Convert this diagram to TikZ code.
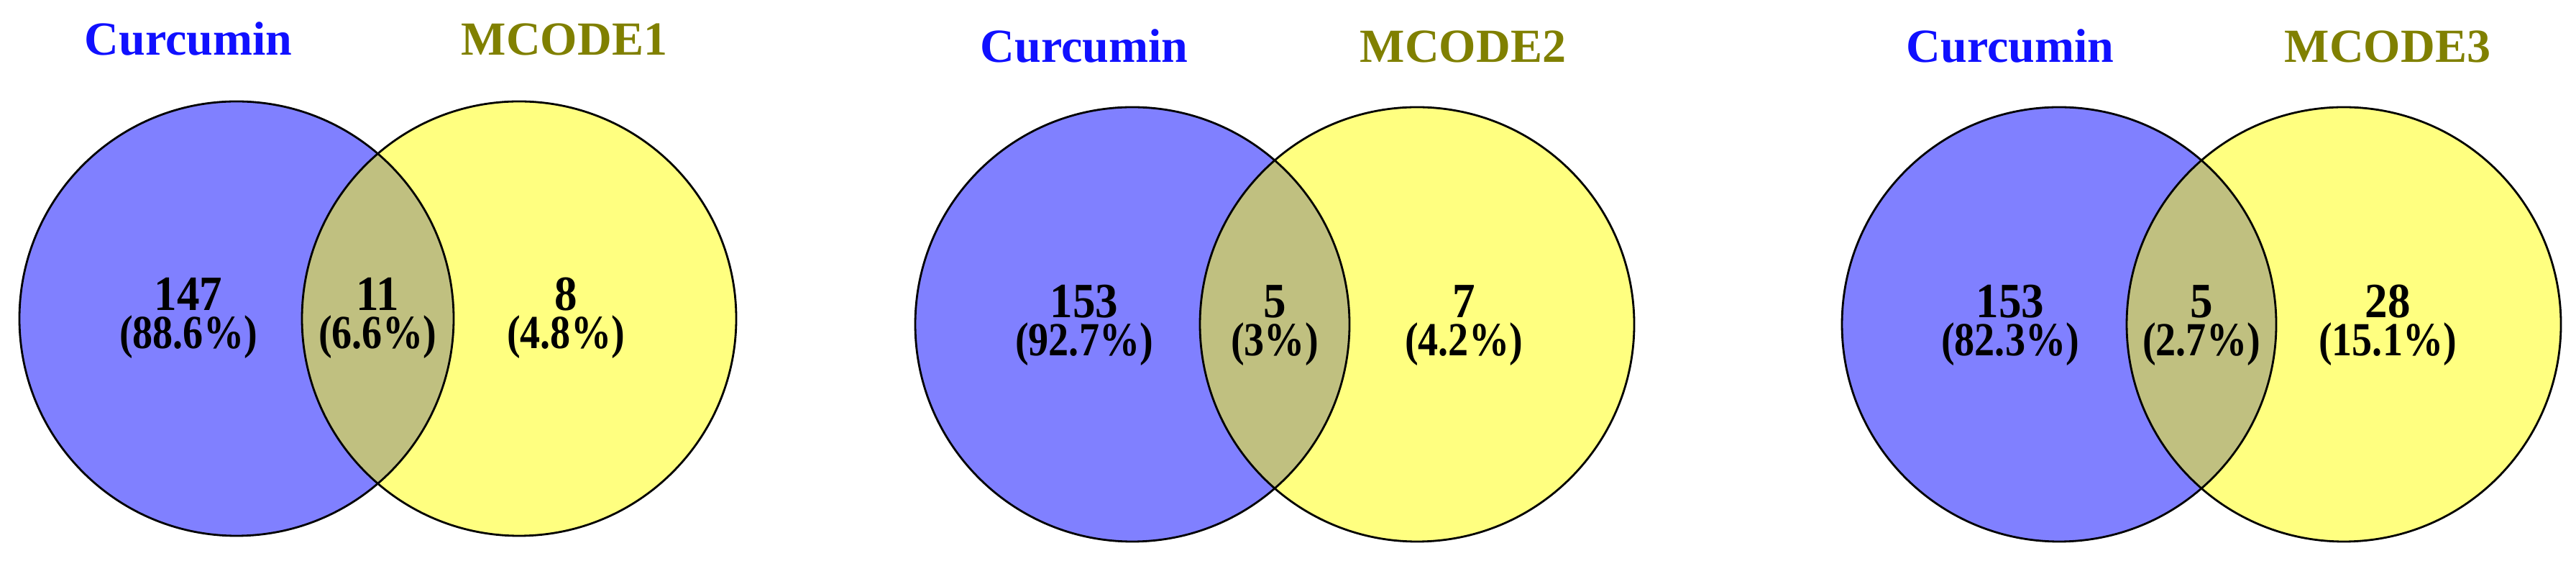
\documentclass[tikz,border=0pt]{standalone}
\usepackage{fontspec}
\setmainfont{Liberation Serif}
\newfontfamily\cntfont[FakeStretch=0.92]{Liberation Serif}
\newfontfamily\pctfont[FakeStretch=0.85]{Liberation Serif}

\definecolor{vennBlue}{HTML}{8080FF}
\definecolor{vennYellow}{HTML}{FFFF80}
\definecolor{vennOlive}{HTML}{C0C080}
\definecolor{labBlue}{HTML}{1010FF}
\definecolor{labOlive}{HTML}{808000}

\begin{document}
\begin{tikzpicture}[
    setA/.style={fill=vennBlue},
    setB/.style={fill=vennYellow},
    both/.style={fill=vennOlive},
    rim/.style={draw=black, line width=0.8pt},
    head/.style={font=\fontsize{18.8}{22}\selectfont\bfseries, anchor=base,
                 inner sep=0pt},
    cnt/.style={font=\cntfont\fontsize{19.5}{22}\selectfont\bfseries,
                anchor=base, inner sep=0pt},
    pct/.style={font=\pctfont\fontsize{18.8}{22}\selectfont\bfseries,
                anchor=base, inner sep=0pt},
]
\useasboundingbox (0,0) rectangle (35.83,7.80);

% Panel 1 (left)
\fill[setA] (3.29,3.37) circle (3.02);
\fill[setB] (7.22,3.37) circle (3.02);
\begin{scope}
    \clip (3.29,3.37) circle (3.02);
    \fill[both] (7.22,3.37) circle (3.02);
\end{scope}
\draw[rim] (3.29,3.37) circle (3.02);
\draw[rim] (7.22,3.37) circle (3.02);

\node[head, text=labBlue] (curA) at (2.62,7.03) {Curcumin};
\node[head, text=labOlive] (mcA) at (7.85,7.03) {MCODE1};

\node[cnt] (leftA) at (2.62,3.48) {147};
\node[pct] (leftAp) at (2.62,2.95) {(88.6\%)};
\node[cnt] (midA) at (5.25,3.48) {11};
\node[pct] (midAp) at (5.25,2.95) {(6.6\%)};
\node[cnt] (rightA) at (7.87,3.48) {8};
\node[pct] (rightAp) at (7.87,2.95) {(4.8\%)};

% Panel 2 (middle)
\fill[setA] (15.75,3.29) circle (3.02);
\fill[setB] (19.71,3.29) circle (3.02);
\begin{scope}
    \clip (15.75,3.29) circle (3.02);
    \fill[both] (19.71,3.29) circle (3.02);
\end{scope}
\draw[rim] (15.75,3.29) circle (3.02);
\draw[rim] (19.71,3.29) circle (3.02);

\node[head, text=labBlue] (curB) at (15.08,6.93) {Curcumin};
\node[head, text=labOlive] (mcB) at (20.35,6.93) {MCODE2};

\node[cnt] (leftB) at (15.08,3.38) {153};
\node[pct] (leftBp) at (15.08,2.85) {(92.7\%)};
\node[cnt] (midB) at (17.73,3.38) {5};
\node[pct] (midBp) at (17.73,2.85) {(3\%)};
\node[cnt] (rightB) at (20.36,3.38) {7};
\node[pct] (rightBp) at (20.36,2.85) {(4.2\%)};

% Panel 3 (right)
\fill[setA] (28.64,3.29) circle (3.02);
\fill[setB] (32.60,3.29) circle (3.02);
\begin{scope}
    \clip (28.64,3.29) circle (3.02);
    \fill[both] (32.60,3.29) circle (3.02);
\end{scope}
\draw[rim] (28.64,3.29) circle (3.02);
\draw[rim] (32.60,3.29) circle (3.02);

\node[head, text=labBlue] (curC) at (27.96,6.93) {Curcumin};
\node[head, text=labOlive] (mcC) at (33.21,6.93) {MCODE3};

\node[cnt] (leftC) at (27.96,3.38) {153};
\node[pct] (leftCp) at (27.96,2.85) {(82.3\%)};
\node[cnt] (midC) at (30.62,3.38) {5};
\node[pct] (midCp) at (30.62,2.85) {(2.7\%)};
\node[cnt] (rightC) at (33.21,3.38) {28};
\node[pct] (rightCp) at (33.21,2.85) {(15.1\%)};

\end{tikzpicture}
\end{document}
